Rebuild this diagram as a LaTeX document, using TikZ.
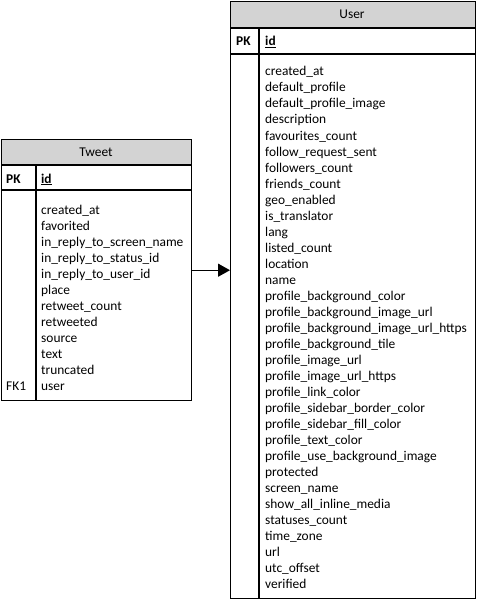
\documentclass[tikz,border=0pt]{standalone}
\usepackage{fontspec}
\setmainfont{Carlito}
\usetikzlibrary{arrows.meta}
\definecolor{hdr}{RGB}{211,211,211}
\begin{document}
\begin{tikzpicture}[x=1pt,y=-1pt,
  frame/.style={draw,line width=1.4pt,rectangle,inner sep=0pt,anchor=north west},
  rule/.style={line width=1.4pt},
  field/.style={anchor=base west,inner sep=0pt,font=\fontsize{13.4}{16}\selectfont},
  keyfield/.style={field,font=\fontsize{13.4}{16}\selectfont\bfseries},
  title/.style={inner sep=0pt,font=\fontsize{13.4}{16}\selectfont},
  link/.style={line width=1.4pt,-{Triangle[length=12pt,width=13pt]}}]
\useasboundingbox (0,0) rectangle (477,599);
% ---------- Tweet ----------
\fill[hdr] (1,139) rectangle (191,165);
\node[frame,minimum width=190pt,minimum height=261pt] (tweet) at (1,139) {};
\draw[rule] (1,165) -- (191,165);
\draw[rule] (1,190) -- (191,190);
\draw[rule] (36,165) -- (36,400);
\node[title] (tweettitle) at (96,152) {Tweet};
\node[keyfield] (tpk) at (6,183) {PK};
\node[keyfield] (tid) at (41,183) {\underline{id}};
\foreach \t [count=\i] in {created\_at,favorited,in\_reply\_to\_screen\_name,in\_reply\_to\_status\_id,in\_reply\_to\_user\_id,place,retweet\_count,retweeted,source,text,truncated,user}
  \node[field] (tf\i) at (41,{214+16*(\i-1)}) {\t};
\node[field] (tfk) at (6,390) {FK1};
% ---------- User ----------
\fill[hdr] (230,1) rectangle (475,28);
\node[frame,minimum width=245pt,minimum height=597pt] (user) at (230,1) {};
\draw[rule] (230,28) -- (475,28);
\draw[rule] (230,54) -- (475,54);
\draw[rule] (259,28) -- (259,598);
\node[title] (usertitle) at (352,14) {User};
\node[keyfield] (upk) at (236,46) {PK};
\node[keyfield] (uid) at (265,46) {\underline{id}};
\foreach \t [count=\i] in {created\_at,default\_profile,default\_profile\_image,description,favourites\_count,follow\_request\_sent,followers\_count,friends\_count,geo\_enabled,is\_translator,lang,listed\_count,location,name,profile\_background\_color,profile\_background\_image\_url,profile\_background\_image\_url\_https,profile\_background\_tile,profile\_image\_url,profile\_image\_url\_https,profile\_link\_color,profile\_sidebar\_border\_color,profile\_sidebar\_fill\_color,profile\_text\_color,profile\_use\_background\_image,protected,screen\_name,show\_all\_inline\_media,statuses\_count,time\_zone,url,utc\_offset,verified}
  \node[field] (uf\i) at (265,{76+16*(\i-1)}) {\t};
% ---------- link ----------
\draw[link] (tweet.east) -- (user.west |- tweet.east);
\end{tikzpicture}
\end{document}
